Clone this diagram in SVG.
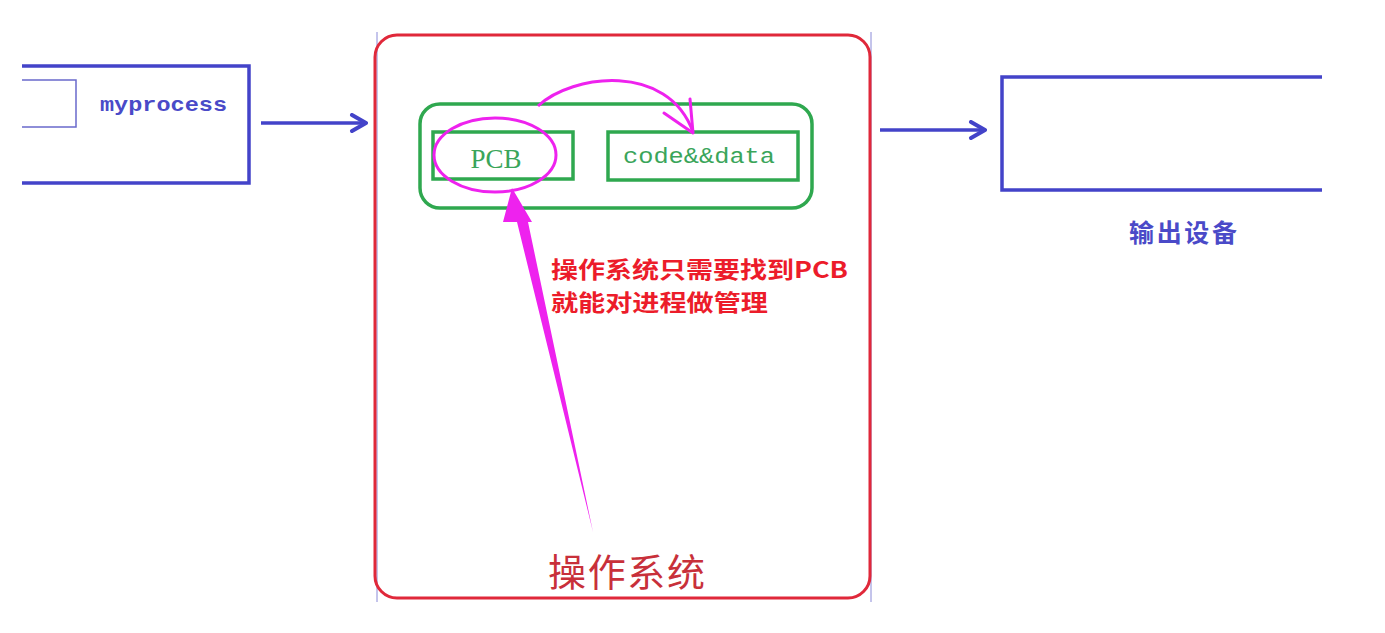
<svg xmlns="http://www.w3.org/2000/svg" width="1385" height="633" viewBox="0 0 1385 633">
<style>
.blue{fill:none;stroke:#4343c9;stroke-width:3.5}
.thin{fill:none;stroke:#6a6acb;stroke-width:1.5}
.green{fill:none;stroke:#2fa84f;stroke-width:3.5}
.mag{fill:none;stroke:#ee22ee;stroke-width:3}
.gtext{fill:#3aa55a}
.note{font-family:"Noto Sans CJK SC",sans-serif;font-weight:bold;font-size:22.5px;fill:#ec1c2a}
</style>
<defs>
<marker id="chev" viewBox="0 0 20 20" refX="18" refY="10" markerWidth="20" markerHeight="20" markerUnits="userSpaceOnUse" orient="auto">
<path d="M4,2 L18,10 L4,18" fill="none" stroke="#4343c9" stroke-width="4" stroke-linecap="round" stroke-linejoin="round"/>
</marker>
</defs>
<rect width="1385" height="633" fill="#ffffff"/>
<g id="myprocess">
<path class="blue" d="M22,66 H249 V183 H22"/>
<path class="thin" d="M22,80 H76 V127 H22"/>
<text x="100" y="111" font-family="Liberation Mono, monospace" font-weight="bold" font-size="21" textLength="127" lengthAdjust="spacingAndGlyphs" fill="#4a4ac8">myprocess</text>
</g>
<g id="os">
<line x1="377" y1="32" x2="377" y2="602" stroke="#8a8ad8" stroke-width="1"/>
<line x1="871" y1="32" x2="871" y2="602" stroke="#8a8ad8" stroke-width="1"/>
<rect x="375" y="35" width="495" height="563" rx="22" fill="none" stroke="#e0283a" stroke-width="3"/>
<text x="548" y="586" font-family="Noto Sans CJK SC, sans-serif" font-size="38" fill="#c8303a" textLength="157" lengthAdjust="spacing">操作系统</text>
</g>
<g id="process-group">
<rect x="420" y="104" width="392" height="104" rx="20" class="green"/>
</g>
<g id="pcb">
<rect x="433" y="132" width="140" height="47" class="green"/>
<text x="496" y="168" text-anchor="middle" font-family="Liberation Serif, serif" font-size="27" class="gtext">PCB</text>
<ellipse cx="495" cy="155" rx="61" ry="37" class="mag"/>
</g>
<g id="code-data">
<rect x="608" y="132" width="190" height="48" class="green"/>
<text x="623" y="163" font-family="Liberation Mono, monospace" font-size="22" textLength="152" lengthAdjust="spacingAndGlyphs" class="gtext">code&amp;&amp;data</text>
</g>
<g id="output-device">
<path class="blue" d="M1322,77 H1002 V190 H1322"/>
<text x="1129" y="242" font-family="Noto Sans CJK SC, sans-serif" font-weight="bold" font-size="25" textLength="108" lengthAdjust="spacing" fill="#4a4ac8">输出设备</text>
</g>
<g id="note">
<text class="note" x="551" y="278" textLength="297" lengthAdjust="spacingAndGlyphs">操作系统只需要找到PCB</text>
<text class="note" x="551" y="311" textLength="217" lengthAdjust="spacingAndGlyphs">就能对进程做管理</text>
</g>
<g id="connectors">
<line x1="261" y1="123" x2="366" y2="123" class="blue" marker-end="url(#chev)"/>
<line x1="880" y1="130" x2="985" y2="130" class="blue" marker-end="url(#chev)"/>
<path class="mag" d="M538,106 C572,74 668,62 693,132"/>
<path class="mag" d="M664,113 L693,133 L690,99" stroke-linecap="round" stroke-linejoin="round"/>
<path d="M593,532 L517,222 L503,222 L512,188 L532,222 L528,222 Z" fill="#ee22ee"/>
</g>
</svg>
